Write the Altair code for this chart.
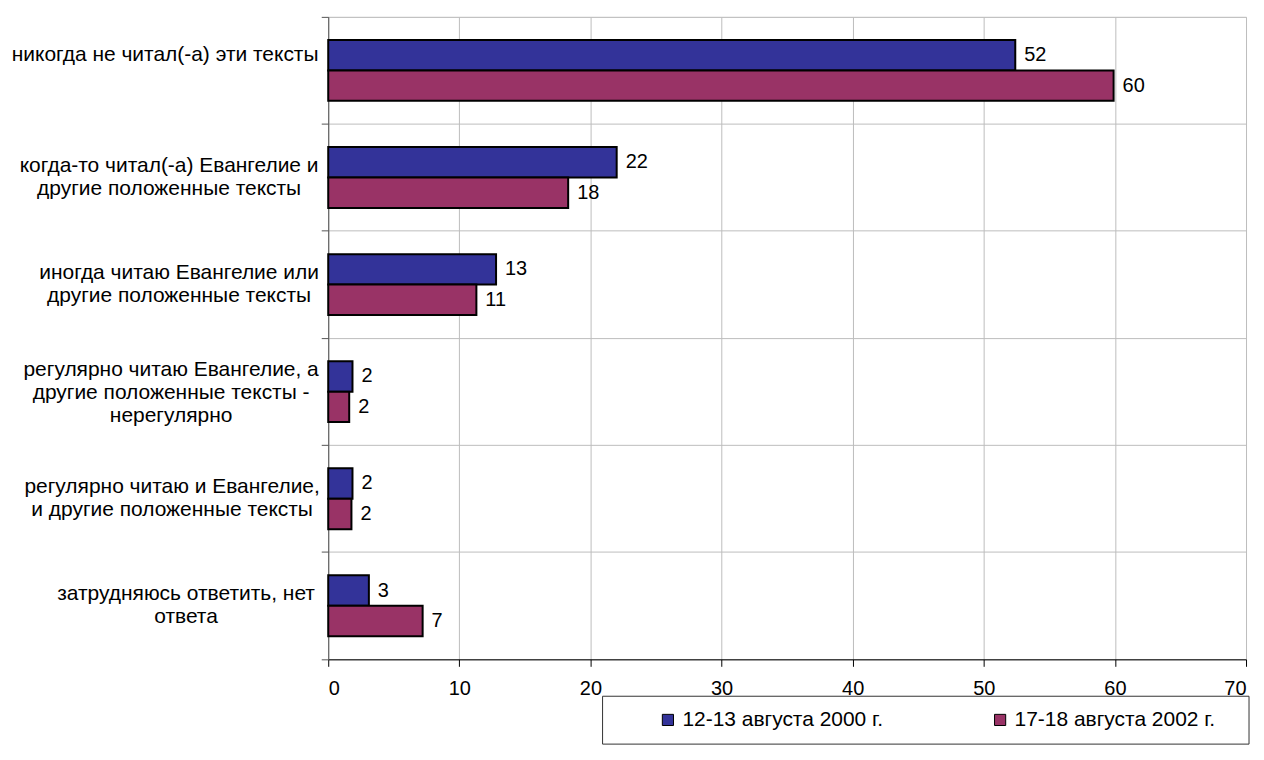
import altair as alt
import pandas as pd

categories = [
    "никогда не читал(-а) эти тексты",
    "когда-то читал(-а) Евангелие и\nдругие положенные тексты",
    "иногда читаю Евангелие или\nдругие положенные тексты",
    "регулярно читаю Евангелие, а\nдругие положенные тексты -\nнерегулярно",
    "регулярно читаю и Евангелие,\nи другие положенные тексты",
    "затрудняюсь ответить, нет\nответа",
]
series = ["12-13 августа 2000 г.", "17-18 августа 2002 г."]
values_2000 = [52.4, 22.0, 12.8, 1.85, 1.85, 3.1]
values_2002 = [59.9, 18.3, 11.3, 1.6, 1.77, 7.2]
labels_2000 = ["52", "22", "13", "2", "2", "3"]
labels_2002 = ["60", "18", "11", "2", "2", "7"]
colors = ["#333399", "#993366"]
x_ticks = [0, 10, 20, 30, 40, 50, 60, 70]

rows = []
for c, v, l in zip(categories, values_2000, labels_2000):
    rows.append({"cat": c, "series": series[0], "value": v, "label": l})
for c, v, l in zip(categories, values_2002, labels_2002):
    rows.append({"cat": c, "series": series[1], "value": v, "label": l})
df = pd.DataFrame(rows)

FONT = "Liberation Sans"


def per_label(vals, default):
    expr = " : ".join(
        f"datum.value == {repr(c)} ? {p}" for c, p in zip(categories, vals)
    ) + f" : {default}"
    return expr.replace("\n", "\\n")


# layout of the category label blocks (centred text, right edge near the axis)
pads = [157, 153, 143, 151, 150, 136]
offsets = [-15, -11.5, -11.5, -22, -11.5, -11.5]

y_enc = alt.Y(
    "cat:N",
    sort=categories,
    scale=alt.Scale(paddingInner=0, paddingOuter=0),
    axis=alt.Axis(
        title=None,
        bandPosition=1,
        tickExtra=True,
        grid=True,
        gridColor="#bdbdbd",
        gridWidth=1,
        domainColor="#555555",
        tickColor="#555555",
        tickSize=7,
        labelAlign="center",
        labelBaseline="middle",
        labelPadding=alt.ExprRef(per_label(pads, 150)),
        labelOffset=alt.ExprRef(per_label(offsets, 0)),
        labelExpr="split(datum.label, '\\n')",
        labelFont=FONT,
        labelFontSize=21,
        labelLineHeight=23,
        labelColor="#000000",
        labelLimit=400,
    ),
)
yoff_enc = alt.YOffset(
    "series:N", sort=series, scale=alt.Scale(paddingInner=0, paddingOuter=0.76)
)
x_enc = alt.X(
    "value:Q",
    scale=alt.Scale(domain=[0, 70], nice=False),
    axis=alt.Axis(
        title=None,
        values=x_ticks,
        grid=True,
        gridColor="#bdbdbd",
        domainColor="#000000",
        tickColor="#000000",
        tickSize=7,
        labelPadding=12,
        labelFont=FONT,
        labelFontSize=20,
        labelColor="#000000",
    ),
)

bars = alt.Chart(df).mark_bar(stroke="#000000", strokeWidth=2).encode(
    y=y_enc,
    yOffset=yoff_enc,
    x=x_enc,
    color=alt.Color(
        "series:N",
        sort=series,
        scale=alt.Scale(domain=series, range=colors),
        legend=alt.Legend(
            title=None,
            orient="none",
            legendX=330,
            legendY=694,
            direction="horizontal",
            columns=2,
            columnPadding=106,
            symbolType="square",
            symbolSize=125,
            symbolStrokeColor="#000000",
            symbolStrokeWidth=1,
            symbolOffset=0,
            labelFont=FONT,
            labelFontSize=21,
            labelColor="#000000",
            labelOffset=4,
            labelLimit=400,
            padding=0,
        ),
    ),
)

texts = alt.Chart(df).mark_text(
    align="left", baseline="middle", dx=9, font=FONT, fontSize=20, color="#000000"
).encode(y=y_enc, yOffset=yoff_enc, x=x_enc, text="label:N")

frame = alt.Chart(pd.DataFrame({"k": [0]})).mark_rect(
    fill="#ffffff", stroke="#333333", strokeWidth=1
).encode(
    x=alt.value(275), x2=alt.value(923), y=alt.value(681), y2=alt.value(729)
)

chart = (
    alt.layer(frame, bars, texts)
    .properties(
        width=920,
        height=644,
        autosize=alt.AutoSizeParams(type="none"),
        padding={"left": 321, "top": 8, "right": 10, "bottom": 90},
    )
    .configure_view(stroke=None)
    .configure(background="#ffffff")
)

chart.save("out.html", embed_options={"renderer": "svg", "actions": False})
